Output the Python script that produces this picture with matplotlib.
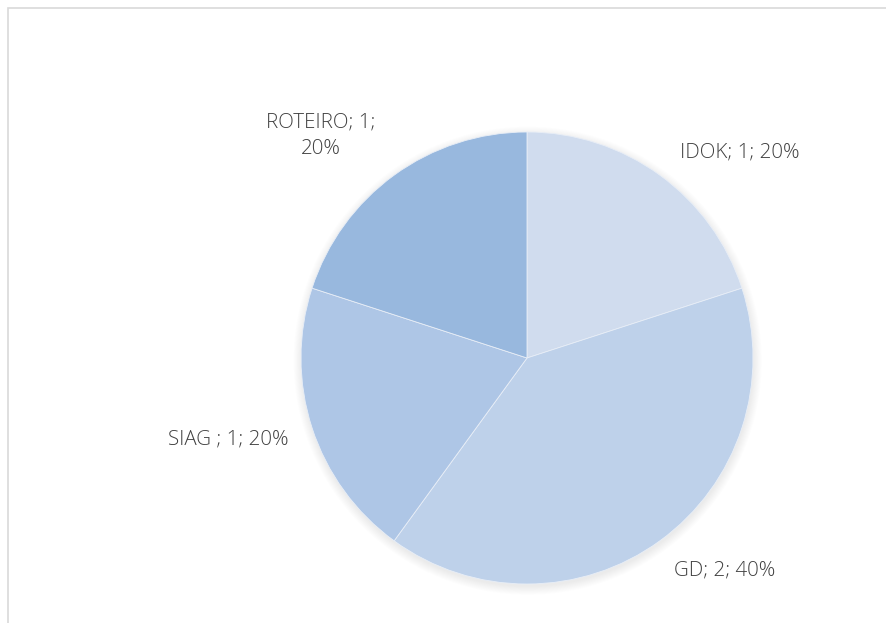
import matplotlib
matplotlib.use("Agg")
import matplotlib.pyplot as plt
from matplotlib.patches import Circle, Rectangle
import numpy as np

categories = ["IDOK", "GD", "SIAG ", "ROTEIRO"]
values = [1, 2, 1, 1]
percents = ["20%", "40%", "20%", "20%"]
colors = ["#D0DCEE", "#BED1EA", "#AEC6E6", "#98B8DE"]

W, H = 887, 623
fig = plt.figure(figsize=(W / 100, H / 100), dpi=100)
fig.patch.set_facecolor("white")

# chart border
fig.add_artist(Rectangle((8.5 / W, -0.05), 1.2, (H - 8.5) / H + 0.05,
                         transform=fig.transFigure, fill=False,
                         edgecolor="#D9D9D9", linewidth=1.2))

cx, cy, r = 527, 358, 226
ax = fig.add_axes([(cx - r) / W, (H - cy - r) / H, 2 * r / W, 2 * r / H])

# soft shadow
for i in range(10):
    ax.add_patch(Circle((0.003, -0.012), 1.0 + 0.004 * i, color="black",
                        alpha=0.008, zorder=0, linewidth=0, clip_on=False))

wedges, _ = ax.pie(values, colors=colors, startangle=90, counterclock=False,
                   radius=1.0, wedgeprops=dict(linewidth=0.6, edgecolor="#E8EEF7"))
for w in wedges:
    w.set_zorder(2)
    w.set_clip_on(False)

ax.set_xlim(-1, 1)
ax.set_ylim(-1, 1)
ax.set_aspect("equal")
ax.axis("off")

tcol = "#404040"
fs = 14.8
font = "Open Sans"
labels = [f"{c}; {v}; {p}" for c, v, p in zip(categories, values, percents)]
labels[3] = f"{categories[3]}; {values[3]};\n{percents[3]}"
positions = [(0.942, 0.907), (0.876, -0.942), (-1.323, -0.363), (-0.912, 0.982)]
for lab, (x, y) in zip(labels, positions):
    ax.text(x, y, lab, ha="center", va="center", fontsize=fs, color=tcol,
            family=font, fontweight="light", linespacing=1.45, zorder=5)

fig.savefig("out.png", dpi=100, facecolor="white")
